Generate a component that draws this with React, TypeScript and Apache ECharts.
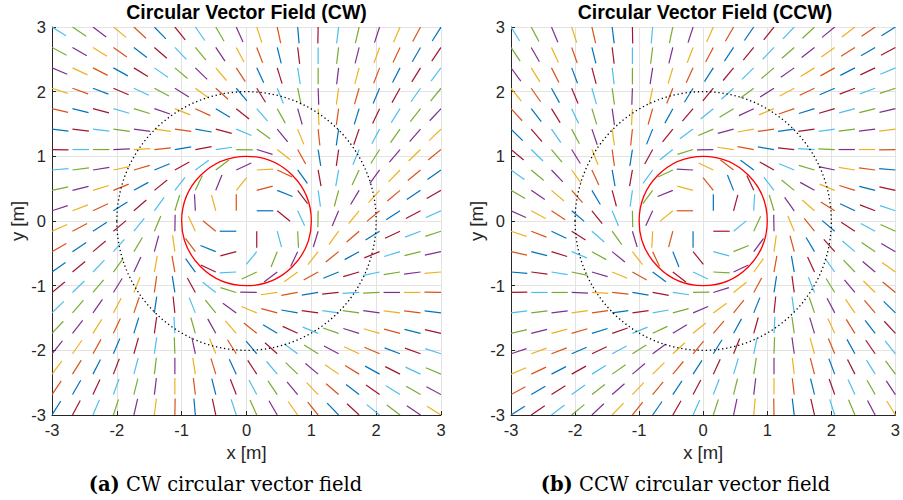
import React, { useEffect, useRef } from "react";
import * as echarts from "echarts";

// Grid positions of the field samples (x and y)
const gridPos = [
  -3, -2.684, -2.368, -2.053, -1.737, -1.421, -1.105, -0.789, -0.474, -0.158,
  0.158, 0.474, 0.789, 1.105, 1.421, 1.737, 2.053, 2.368, 2.684, 3,
];

// CW field: heading (degrees) of each segment in the first quadrant,
// rows from y = 3 down to y = 0.158, columns from x = 0.158 to x = 3.
// The other quadrants of the picture are the same pattern turned by 90°.
const q1y3000 = [-72, -78, -85, -91, -97, -103, -108, -113, -118, -122];
const q1y2684 = [-69, -76, -83, -90, -97, -104, -110, -115, -120, -124];
const q1y2368 = [-65, -73, -81, -90, -97, -105, -111, -117, -122, -127];
const q1y2053 = [-58, -68, -78, -88, -98, -106, -113, -119, -125, -129];
const q1y1737 = [-49, -61, -74, -87, -98, -107, -115, -122, -128, -133];
const q1y1421 = [-36, -51, -68, -84, -98, -109, -118, -125, -131, -136];
const q1y1105 = [-17, -38, -61, -81, -98, -112, -122, -130, -136, -141];
const q1y0789 = [3, -25, -54, -80, -100, -115, -126, -134, -140, -145];
const q1y0474 = [15, -22, -53, -82, -105, -121, -132, -140, -146, -150];
const q1y0158 = [0, -39, -65, -91, -113, -129, -140, -147, -152, -156];
const q1Rows = [q1y3000, q1y2684, q1y2368, q1y2053, q1y1737, q1y1421, q1y1105, q1y0789, q1y0474, q1y0158];

const segmentLength = 0.255;
const pathRadius = 1;
const guideRadius = 2;
const axisMin = -3;
const axisMax = 3;
const axisStep = 1;

const titles = ["Circular Vector Field (CW)", "Circular Vector Field (CCW)"];
const captionTags = ["(a)", "(b)"];
const captionTexts = ["CW circular vector field", "CCW circular vector field"];
const xName = "x [m]";
const yName = "y [m]";

const palette = ["#0072BD", "#D95319", "#EDB120", "#7E2F8E", "#77AC30", "#4DBEEE", "#A2142F"];

const SANS = "'Liberation Sans', Arial, Helvetica, sans-serif";
const SERIF = "'DejaVu Serif', 'Liberation Serif', serif";
const AXIS_COLOR = "#262626";

function q1(ix: number, iy: number): number {
  return q1Rows[9 - iy][ix];
}

function cwHeading(i: number, j: number): number {
  if (i >= 10 && j >= 10) return q1(i - 10, j - 10);
  if (i < 10 && j >= 10) return q1(j - 10, 9 - i) + 90;
  if (i < 10 && j < 10) return q1(9 - i, 9 - j) + 180;
  return q1(9 - j, i - 10) + 270;
}

function buildSegments(ccw: boolean) {
  const out: number[][] = [];
  for (let i = 0; i < 20; i++) {
    for (let j = 0; j < 20; j++) {
      const h = ccw ? -cwHeading(i, 19 - j) : cwHeading(i, j);
      out.push([gridPos[i], gridPos[j], h, (20 * i + j) % 7]);
    }
  }
  return out;
}

const gridBoxes = [
  { left: 52, top: 27, width: 389, height: 388 },
  { left: 511, top: 27, width: 388, height: 388 },
];

export default function App() {
  const ref = useRef<HTMLDivElement>(null);

  useEffect(() => {
    if (!ref.current) return;
    const chart = echarts.init(ref.current, undefined, { renderer: "svg" });

    const xAxis = [0, 1].map((k) => ({
      type: "value",
      gridIndex: k,
      min: axisMin,
      max: axisMax,
      interval: axisStep,
      name: xName,
      nameLocation: "middle",
      nameGap: 24,
      nameTextStyle: { fontFamily: SANS, fontSize: 18.5, color: AXIS_COLOR },
      axisLine: { show: true, onZero: false, lineStyle: { color: AXIS_COLOR, width: 1 } },
      axisTick: { show: true, inside: true, length: 4, lineStyle: { color: AXIS_COLOR } },
      axisLabel: { fontFamily: SANS, fontSize: 16.5, color: AXIS_COLOR, margin: 6 },
      splitLine: { show: true, lineStyle: { color: "#e3e3e3", width: 1 } },
    }));
    const yAxis = [0, 1].map((k) => ({
      type: "value",
      gridIndex: k,
      min: axisMin,
      max: axisMax,
      interval: axisStep,
      name: yName,
      nameLocation: "middle",
      nameGap: 25,
      nameTextStyle: { fontFamily: SANS, fontSize: 18.5, color: AXIS_COLOR },
      axisLine: { show: true, onZero: false, lineStyle: { color: AXIS_COLOR, width: 1 } },
      axisTick: { show: true, inside: true, length: 4, lineStyle: { color: AXIS_COLOR } },
      axisLabel: { fontFamily: SANS, fontSize: 16.5, color: AXIS_COLOR, margin: 6 },
      splitLine: { show: true, lineStyle: { color: "#e3e3e3", width: 1 } },
    }));

    const segmentSeries = [0, 1].map((k) => ({
      type: "custom",
      coordinateSystem: "cartesian2d",
      xAxisIndex: k,
      yAxisIndex: k,
      silent: true,
      clip: true,
      z: 2,
      data: buildSegments(k === 1),
      encode: { x: 0, y: 1 },
      renderItem: (_params: any, api: any) => {
        const x = api.value(0) as number;
        const y = api.value(1) as number;
        const a = ((api.value(2) as number) * Math.PI) / 180;
        const p0 = api.coord([x, y]);
        const p1 = api.coord([x + segmentLength * Math.cos(a), y + segmentLength * Math.sin(a)]);
        return {
          type: "line",
          shape: { x1: p0[0], y1: p0[1], x2: p1[0], y2: p1[1] },
          style: { stroke: palette[api.value(3) as number], lineWidth: 1.2 },
        };
      },
    }));

    const circleSeries = [0, 1].map((k) => ({
      type: "custom",
      coordinateSystem: "cartesian2d",
      xAxisIndex: k,
      yAxisIndex: k,
      silent: true,
      z: 3,
      data: [
        [0, 0, guideRadius, 1],
        [0, 0, pathRadius, 0],
      ],
      encode: { x: 0, y: 1 },
      renderItem: (_params: any, api: any) => {
        const c = api.coord([api.value(0), api.value(1)]);
        const r = api.value(2) as number;
        const s = api.size([r, r]);
        const dotted = api.value(3) === 1;
        return {
          type: "ellipse",
          shape: { cx: c[0], cy: c[1], rx: s[0], ry: s[1] },
          style: dotted
            ? { fill: "none", stroke: "#000000", lineWidth: 1.3, lineDash: [1.3, 2.8] }
            : { fill: "none", stroke: "#ff0000", lineWidth: 1.3 },
        };
      },
    }));

    const centers = gridBoxes.map((g) => g.left + g.width / 2);
    const captionCenters = [225.5, 685.5];

    const graphic: any[] = [];
    [0, 1].forEach((k) => {
      graphic.push({
        type: "text",
        x: centers[k],
        y: 12,
        style: {
          text: titles[k],
          fontFamily: SANS,
          fontSize: 19.5,
          fontWeight: "bold",
          fill: "#000",
          align: "center",
          textAlign: "center",
          verticalAlign: "middle",
          textVerticalAlign: "middle",
        },
      });
      graphic.push({
        type: "text",
        x: captionCenters[k],
        y: 484,
        style: {
          text: `{b|${captionTags[k]}} ${captionTexts[k]}`,
          rich: { b: { fontFamily: SERIF, fontSize: 19.5, fontWeight: "bold", fill: "#000" } },
          fontFamily: SERIF,
          fontSize: 19.5,
          fill: "#000",
          align: "center",
          textAlign: "center",
          verticalAlign: "middle",
          textVerticalAlign: "middle",
        },
      });
    });

    chart.setOption({
      animation: false,
      backgroundColor: "#ffffff",
      grid: gridBoxes.map((g) => ({ ...g, containLabel: false })),
      xAxis,
      yAxis,
      series: [...segmentSeries, ...circleSeries],
      graphic,
    } as any);

    return () => chart.dispose();
  }, []);

  return (
    <div
      ref={ref}
      style={{ position: "fixed", left: 0, top: 0, width: 903, height: 500, background: "#fff" }}
    />
  );
}
